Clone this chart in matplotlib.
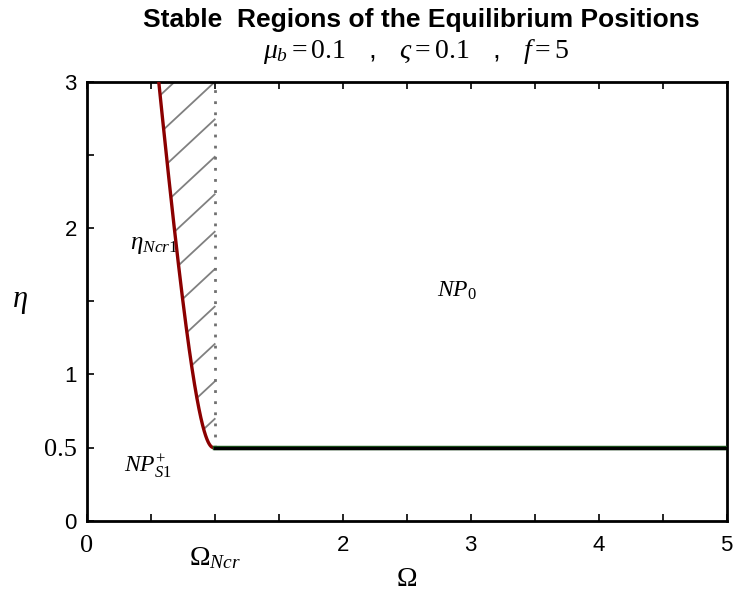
import numpy as np
import matplotlib
matplotlib.use("Agg")
import matplotlib.pyplot as plt
from matplotlib.transforms import blended_transform_factory

# Data
curve_omega = [1.0, 0.950, 0.911, 0.859, 0.833, 0.794, 0.742, 0.703, 0.651, 0.612, 0.560]
curve_eta   = [0.5, 0.516, 0.63,  0.83,  1.06,  1.29,  1.53,  1.76,  2.22,  2.68,  3.0]
omega_ncr = 1.0
eta_flat = 0.5
omega_max = 5.0
eta_max = 3.0
xticks = [0, 0.5, 1, 1.5, 2, 2.5, 3, 3.5, 4, 4.5, 5]
xticklabels = ["", "", "", "", "2", "", "3", "", "4", "", "5"]
yticks = [0, 0.5, 1, 1.5, 2, 2.5, 3]
yticklabels = ["0", "0.5", "1", "", "2", "", "3"]
hatch_spacing = 0.256
hatch_dir = (-0.377, -0.307)

plt.rcParams['mathtext.fontset'] = 'custom'
plt.rcParams['mathtext.rm'] = 'Liberation Serif'
plt.rcParams['mathtext.it'] = 'Liberation Serif:italic'
plt.rcParams['mathtext.bf'] = 'Liberation Serif:bold'
plt.rcParams['font.family'] = 'Liberation Sans'

# smooth fit: Omega as a function of s = sqrt(eta - eta_flat) (rounded corner at the bottom)
s_pts = np.sqrt(np.array(curve_eta) - eta_flat)
coef = np.polyfit(s_pts, curve_omega, 3)


def omega_curve(eta):
    return np.polyval(coef, np.sqrt(np.clip(eta - eta_flat, 0, None)))


fig = plt.figure(figsize=(7.33, 5.94), dpi=100)
ax = fig.add_axes([86.7/733, (594-520.7)/594, (726.7-86.7)/733, (520.7-82)/594])

s_s = np.linspace(0, np.sqrt(eta_max - eta_flat), 400)
et_s = eta_flat + s_s**2
om_s = np.polyval(coef, s_s)
ax.plot(om_s, et_s, color='#8B0000', lw=2.4, zorder=4, solid_capstyle='round')

# hatch lines between the curve and Omega_ncr
ts = np.linspace(0, 1.5, 3000)
y0 = eta_max + hatch_spacing
while y0 > eta_flat + 0.1:
    om_l = omega_ncr + ts * hatch_dir[0]
    et_l = y0 + ts * hatch_dir[1]
    idx = np.where((om_l <= omega_curve(et_l)) | (et_l <= eta_flat))[0]
    if len(idx):
        i = idx[0]
        keep = (ts <= ts[i]) & (et_l <= eta_max)
        if keep.sum() > 1:
            ax.plot(om_l[keep], et_l[keep], color='#808080', lw=1.3, zorder=2)
    y0 -= hatch_spacing

# dotted vertical line
ax.plot([omega_ncr, omega_ncr], [eta_flat, eta_max], color='#707070', lw=2, ls=(0, (1, 3)), zorder=3)

# flat line
ax.plot([omega_ncr, omega_max], [eta_flat, eta_flat], color='#1f5f1f', lw=3.2, zorder=4)
ax.plot([omega_ncr, omega_max], [eta_flat - 0.003, eta_flat - 0.003], color='black', lw=2.4, zorder=5)

ax.set_xlim(0, omega_max)
ax.set_ylim(0, eta_max)

ax.set_xticks(xticks)
ax.set_xticklabels(xticklabels, fontsize=16)
ax.set_yticks(yticks)
ax.set_yticklabels(yticklabels, fontsize=16)
ax.tick_params(axis='both', which='major', direction='in', length=5, width=1.2,
               top=True, right=False, pad=10)
ax.tick_params(axis='y', pad=7)
for lab in ax.get_yticklabels():
    if lab.get_text() == "0.5":
        lab.set_fontfamily('Liberation Serif')
        lab.set_fontsize(19)

trans = blended_transform_factory(ax.transData, ax.transAxes)
ax.text(0, -0.057, "0", transform=trans, fontsize=19, family='Liberation Serif',
        ha='center', va='center')
ax.text(omega_ncr, -0.085, r"$\Omega_{Ncr}$", transform=trans, fontsize=20,
        ha='center', va='center')

for s in ax.spines.values():
    s.set_linewidth(2)

ax.text(2.5, -0.133, r"$\Omega$", transform=trans, fontsize=20, ha='center', va='center')
ax.text(-0.105, 0.5, r"$\eta$", transform=ax.transAxes, fontsize=22, ha='center', va='center')

ax.text(0.34, 1.89, r"$\eta_{Ncr1}$", fontsize=18, va='center', ha='left')
ax.text(2.89, 1.57, r"$NP_0$", fontsize=17, va='center', ha='center')
ax.text(0.29, 0.37, r"$NP_{S1}^{+}$", fontsize=17, va='center', ha='left')

fig.text(421.5/733, 1 - 20/594, "Stable  Regions of the Equilibrium Positions", fontsize=19,
         fontweight='bold', ha='center', va='center')
fig.text(416/733, 1 - 52/594, r"$\mu_b = 0.1$   ,   $\varsigma = 0.1$   ,   $f = 5$", fontsize=20,
         ha='center', va='center')

fig.savefig("out.png", dpi=100)
